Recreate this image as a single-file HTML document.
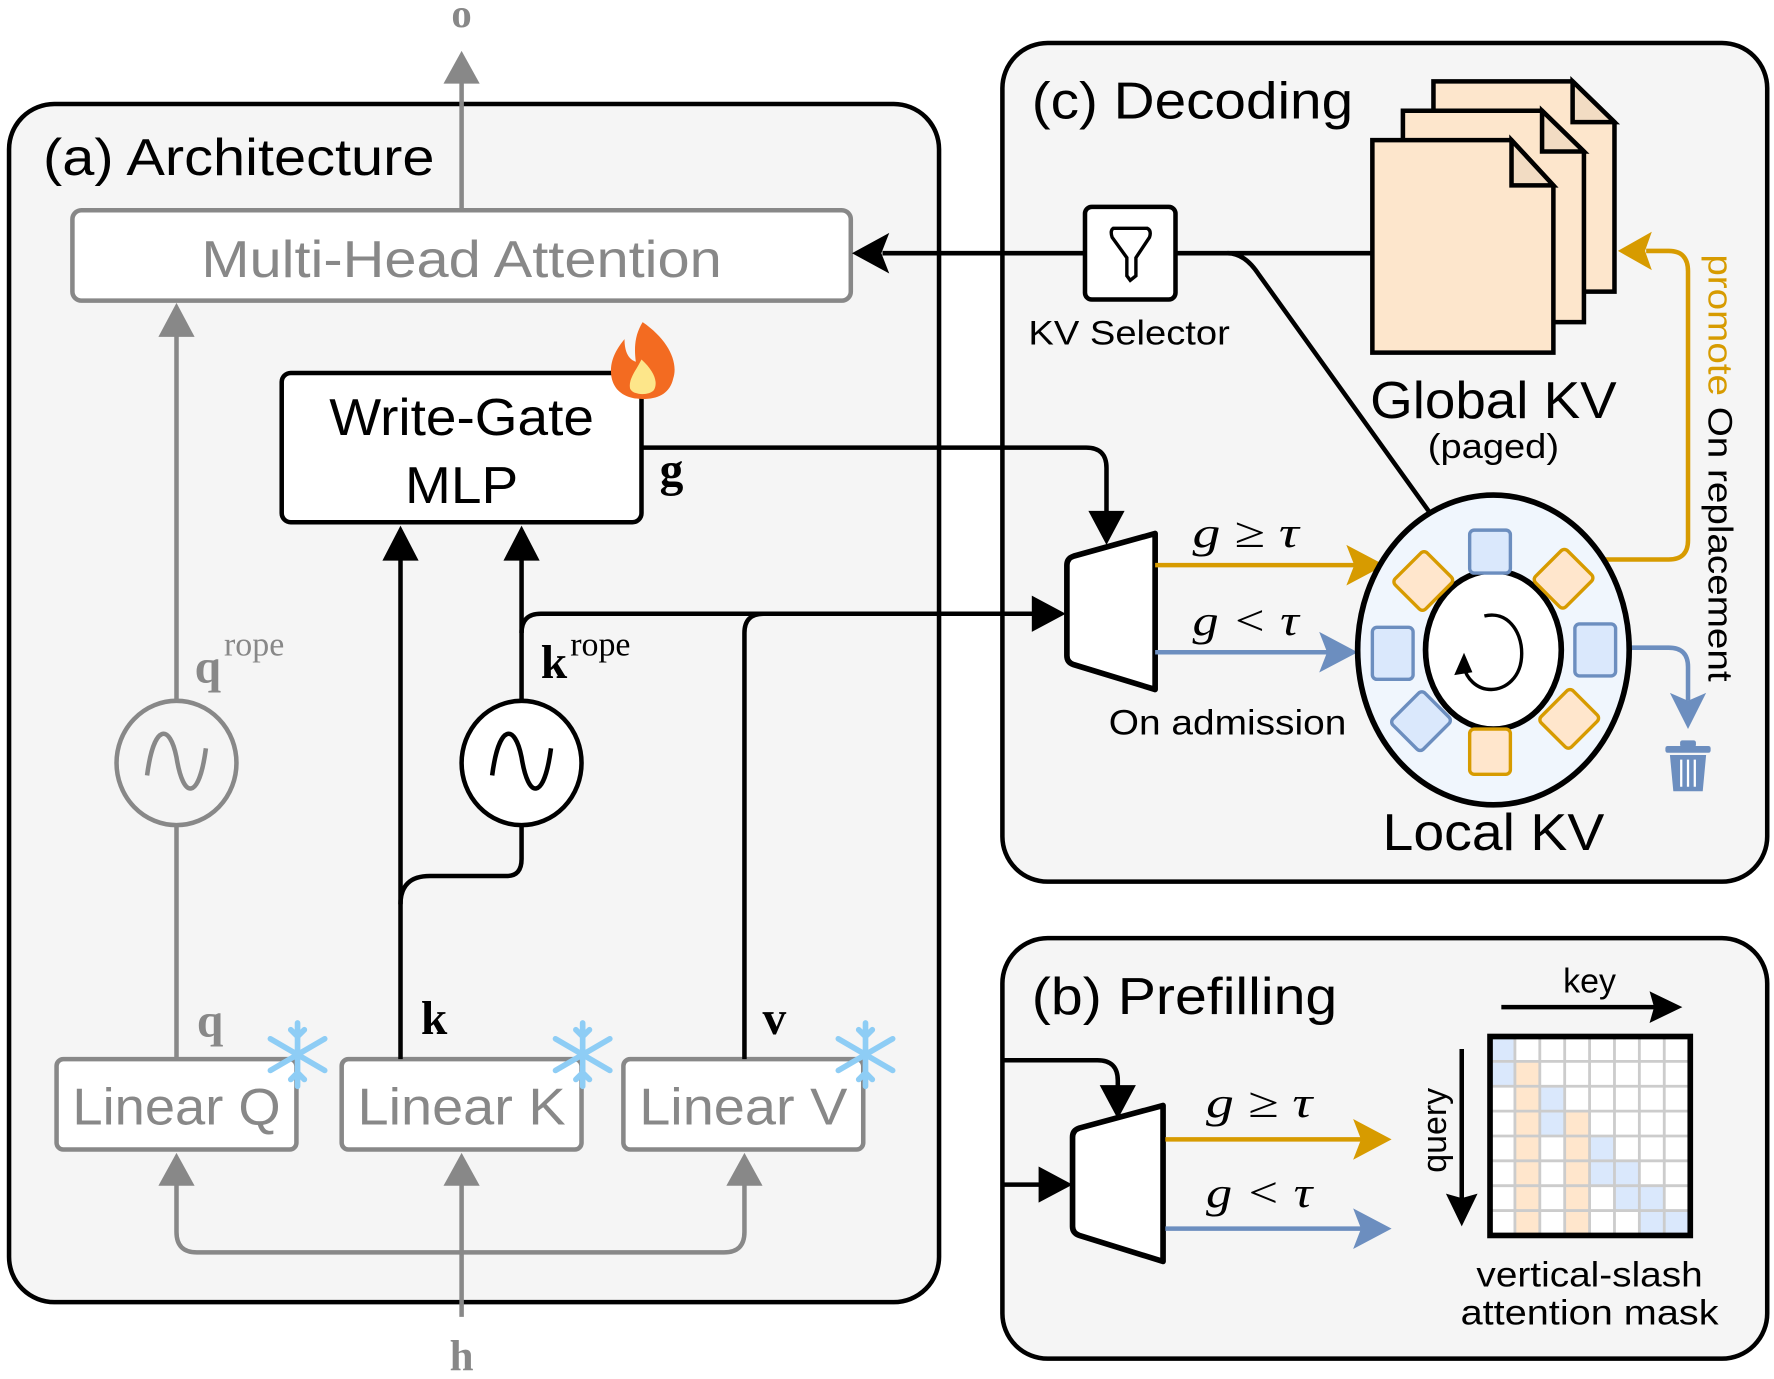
<!DOCTYPE html>
<html><head><meta charset="utf-8"><style>
html,body{margin:0;padding:0;background:#fff;}
svg{display:block;}
text{font-family:"Liberation Sans",sans-serif;}
.s{font-family:"Liberation Serif",serif;}
</style></head><body>
<svg width="1774" height="1379" viewBox="0 0 1568 1220" preserveAspectRatio="none" xmlns="http://www.w3.org/2000/svg">
<!-- panels -->
<rect x="8" y="92" width="822" height="1060" rx="40" fill="#f5f5f5" stroke="#000" stroke-width="4"/>
<rect x="886" y="38" width="676" height="742" rx="40" fill="#f5f5f5" stroke="#000" stroke-width="4"/>
<rect x="886" y="830" width="676" height="372" rx="40" fill="#f5f5f5" stroke="#000" stroke-width="4"/>

<text x="38" y="155" font-size="46" textLength="346" lengthAdjust="spacingAndGlyphs">(a) Architecture</text>
<text x="912" y="105" font-size="46" textLength="284" lengthAdjust="spacingAndGlyphs">(c) Decoding</text>
<text x="912" y="897" font-size="46" textLength="270" lengthAdjust="spacingAndGlyphs">(b) Prefilling</text>

<!-- output o -->
<line x1="408" y1="186" x2="408" y2="70" stroke="#888" stroke-width="4"/>
<path d="M408,45 L392,74 L424,74 Z" fill="#888"/>
<text x="408" y="24" class="s" font-size="36" font-weight="bold" fill="#888" text-anchor="middle">o</text>

<!-- MHA -->
<rect x="64" y="186" width="688" height="80" rx="8" fill="#fff" stroke="#888" stroke-width="4"/>
<text x="408" y="245" font-size="46" fill="#888" text-anchor="middle" textLength="460" lengthAdjust="spacingAndGlyphs">Multi-Head Attention</text>

<!-- Write gate -->
<rect x="249" y="330" width="318" height="132" rx="8" fill="#fff" stroke="#000" stroke-width="4"/>
<text x="408" y="385" font-size="46" text-anchor="middle" textLength="234" lengthAdjust="spacingAndGlyphs">Write-Gate</text>
<text x="408" y="445" font-size="46" text-anchor="middle" textLength="100" lengthAdjust="spacingAndGlyphs">MLP</text>
<!-- flame -->
<path d="M568,285 C590,300 600,320 595,335 C592,348 582,353 568,353 C552,353 540,345 540,328 C540,315 548,305 552,300 C552,312 556,318 562,320 C560,305 562,295 568,285 Z" fill="#f36b21"/>
<path d="M567,318 C578,328 582,338 578,345 C574,350 560,350 557,344 C555,336 562,328 567,318 Z" fill="#fde68a"/>

<!-- linear boxes -->
<rect x="50" y="937" width="212" height="80" rx="6" fill="#fff" stroke="#888" stroke-width="4"/>
<text x="156" y="995" font-size="46" fill="#888" text-anchor="middle" textLength="184" lengthAdjust="spacingAndGlyphs">Linear Q</text>
<rect x="302" y="937" width="212" height="80" rx="6" fill="#fff" stroke="#888" stroke-width="4"/>
<text x="408" y="995" font-size="46" fill="#888" text-anchor="middle" textLength="184" lengthAdjust="spacingAndGlyphs">Linear K</text>
<rect x="551" y="937" width="212" height="80" rx="6" fill="#fff" stroke="#888" stroke-width="4"/>
<text x="657" y="995" font-size="46" fill="#888" text-anchor="middle" textLength="184" lengthAdjust="spacingAndGlyphs">Linear V</text>
<!-- snowflakes -->
<g stroke="#8ecdf5" stroke-width="5" stroke-linecap="round" fill="none">
<g transform="translate(263,933)"><path d="M0,-28 V28 M-24,-14 L24,14 M-24,14 L24,-14 M-6,-22 L0,-16 L6,-22 M-6,22 L0,16 L6,22"/></g>
<g transform="translate(515,933)"><path d="M0,-28 V28 M-24,-14 L24,14 M-24,14 L24,-14 M-6,-22 L0,-16 L6,-22 M-6,22 L0,16 L6,22"/></g>
<g transform="translate(765,933)"><path d="M0,-28 V28 M-24,-14 L24,14 M-24,14 L24,-14 M-6,-22 L0,-16 L6,-22 M-6,22 L0,16 L6,22"/></g>
</g>

<!-- h input -->
<text x="408" y="1212" class="s" font-size="38" font-weight="bold" fill="#888" text-anchor="middle">h</text>
<line x1="408" y1="1165" x2="408" y2="1045" stroke="#888" stroke-width="4"/>
<path d="M408,1020 L392,1049 L424,1049 Z" fill="#888"/>
<path d="M156,1045 L156,1090 Q156,1108 174,1108 L640,1108 Q658,1108 658,1090 L658,1045" fill="none" stroke="#888" stroke-width="4"/>
<path d="M156,1020 L140,1049 L172,1049 Z" fill="#888"/>
<path d="M658,1020 L642,1049 L674,1049 Z" fill="#888"/>

<!-- q path -->
<line x1="156" y1="937" x2="156" y2="730" stroke="#888" stroke-width="4"/>
<line x1="156" y1="620" x2="156" y2="295" stroke="#888" stroke-width="4"/>
<path d="M156,268 L140,298 L172,298 Z" fill="#888"/>
<ellipse cx="156" cy="675" rx="53" ry="55" fill="none" stroke="#888" stroke-width="4"/>
<path d="M130,686 C136,640 150,640 156,670 C162,708 176,708 182,662" fill="none" stroke="#888" stroke-width="4"/>
<text x="172" y="604" class="s" font-size="42" font-weight="bold" fill="#888">q</text>
<text x="198" y="580" class="s" font-size="30" fill="#888">rope</text>
<text x="174" y="917" class="s" font-size="42" font-weight="bold" fill="#888">q</text>

<!-- k path -->
<path d="M354,937 L354,490" fill="none" stroke="#000" stroke-width="4"/>
<path d="M354,465 L338,496 L370,496 Z" fill="#000"/>
<path d="M354,800 Q354,775 380,775 L448,775 Q461,775 461,760 L461,730" fill="none" stroke="#000" stroke-width="4"/>
<ellipse cx="461" cy="675" rx="53" ry="55" fill="#fff" stroke="#000" stroke-width="4"/>
<path d="M435,686 C441,640 455,640 461,670 C467,708 481,708 487,662" fill="none" stroke="#000" stroke-width="4"/>
<path d="M461,620 L461,490" fill="none" stroke="#000" stroke-width="4"/>
<path d="M461,465 L445,496 L477,496 Z" fill="#000"/>
<path d="M461,560 Q461,543 478,543 L915,543" fill="none" stroke="#000" stroke-width="4"/>
<path d="M942,543 L912,527 L912,559 Z" fill="#000"/>
<path d="M658,937 L658,560 Q658,543 675,543" fill="none" stroke="#000" stroke-width="4"/>
<text x="478" y="600" class="s" font-size="42" font-weight="bold">k</text>
<text x="504" y="580" class="s" font-size="30">rope</text>
<text x="372" y="915" class="s" font-size="42" font-weight="bold">k</text>
<text x="674" y="915" class="s" font-size="42" font-weight="bold">v</text>

<!-- g -->
<path d="M567,396 L960,396 Q978,396 978,414 L978,455" fill="none" stroke="#000" stroke-width="4"/>
<path d="M978,482 L962,452 L994,452 Z" fill="#000"/>
<text x="583" y="430" class="s" font-size="42" font-weight="bold">g</text>

<!-- decoding trapezoid -->
<path d="M943,500 Q943,494 949,492 L1021,472 L1021,610 L949,588 Q943,586 943,580 Z" fill="#fff" stroke="#000" stroke-width="5" stroke-linejoin="round"/>
<line x1="1021" y1="500" x2="1200" y2="500" stroke="#d79b00" stroke-width="4"/>
<path d="M1224,500 L1190,482 L1197,500 L1190,518 Z" fill="#d79b00"/>
<line x1="1021" y1="577" x2="1176" y2="577" stroke="#6c8ebf" stroke-width="4"/>
<path d="M1200,577 L1166,559 L1173,577 L1166,595 Z" fill="#6c8ebf"/>
<text x="1054" y="484" class="s" font-size="38" font-style="italic" textLength="94" lengthAdjust="spacingAndGlyphs">g ≥ τ</text>
<text x="1054" y="562" class="s" font-size="38" font-style="italic" textLength="94" lengthAdjust="spacingAndGlyphs">g &lt; τ</text>
<text x="1085" y="650" font-size="31" text-anchor="middle" textLength="210" lengthAdjust="spacingAndGlyphs">On admission</text>

<!-- selector line -->
<line x1="1039" y1="224" x2="1215" y2="224" stroke="#000" stroke-width="4"/>
<line x1="958" y1="224" x2="780" y2="224" stroke="#000" stroke-width="4"/>
<path d="M753,224 L786,206 L779,224 L786,242 Z" fill="#000"/>
<path d="M1085,224 Q1100,224 1112,242 L1272,465" fill="none" stroke="#000" stroke-width="4"/>
<rect x="959" y="183" width="80" height="82" rx="6" fill="#fff" stroke="#000" stroke-width="4"/>
<path d="M984,202 L1014,202 Q1018,204 1016,210 L1004,228 L1004,244 L999,248 L996,244 L996,228 L983,210 Q981,204 984,202 Z" fill="none" stroke="#000" stroke-width="3"/>
<text x="998" y="305" font-size="30" text-anchor="middle" textLength="178" lengthAdjust="spacingAndGlyphs">KV Selector</text>

<!-- pages -->
<g stroke="#000" stroke-width="4" stroke-linejoin="miter">
<path d="M1267,72 L1390,72 L1427,108 L1427,258 L1267,258 Z" fill="#fde6cc"/>
<path d="M1390,72 L1390,108 L1427,108 Z" fill="#f2dcc3"/>
<path d="M1240,98 L1363,98 L1400,134 L1400,285 L1240,285 Z" fill="#fde6cc"/>
<path d="M1363,98 L1363,134 L1400,134 Z" fill="#f2dcc3"/>
<path d="M1213,124 L1336,124 L1373,164 L1373,312 L1213,312 Z" fill="#fde6cc"/>
<path d="M1336,124 L1336,164 L1373,164 Z" fill="#f2dcc3"/>
</g>
<text x="1320" y="370" font-size="46" text-anchor="middle" textLength="218" lengthAdjust="spacingAndGlyphs">Global KV</text>
<text x="1320" y="405" font-size="30" text-anchor="middle" textLength="116" lengthAdjust="spacingAndGlyphs">(paged)</text>

<!-- promote -->
<path d="M1412,495 L1475,495 Q1492,495 1492,478 L1492,240 Q1492,222 1475,222 L1455,222" fill="none" stroke="#d79b00" stroke-width="4"/>
<path d="M1430,222 L1460,205 L1454,222 L1460,239 Z" fill="#d79b00"/>
<text transform="translate(1510,225) rotate(90)" font-size="30" textLength="378" lengthAdjust="spacingAndGlyphs"><tspan fill="#d79b00">promote</tspan> On replacement</text>
<!-- evict -->
<path d="M1442,573 L1475,573 Q1492,573 1492,590 L1492,620" fill="none" stroke="#6c8ebf" stroke-width="4"/>
<path d="M1492,645 L1476,613 L1492,620 L1508,613 Z" fill="#6c8ebf"/>
<g fill="#6c8ebf">
<rect x="1472" y="660" width="40" height="6" rx="2"/>
<rect x="1485" y="655" width="14" height="6" rx="2"/>
<path d="M1476,668 L1508,668 L1505,700 L1479,700 Z"/>
</g>
<path d="M1486,672 V696 M1492,672 V696 M1498,672 V696" stroke="#fff" stroke-width="2"/>

<!-- local kv -->
<ellipse cx="1320" cy="575" rx="120" ry="137" fill="#f0f6fd" stroke="#000" stroke-width="5"/>
<ellipse cx="1320" cy="575" rx="60" ry="70" fill="#fff" stroke="#000" stroke-width="5"/>
<path d="M1312,545 C1332,540 1345,558 1345,578 C1345,600 1330,610 1318,610 C1305,610 1296,600 1294,590" fill="none" stroke="#000" stroke-width="3"/>
<path d="M1294,580 L1287,596 L1300,594 Z" fill="#000" stroke="#000" stroke-width="2"/>
<g stroke-width="3">
<rect x="1299" y="469" width="36" height="38" rx="4" fill="#dae8fc" stroke="#6c8ebf"/>
<rect x="1299" y="645" width="36" height="40" rx="4" fill="#ffe6cc" stroke="#d79b00"/>
<rect x="1213" y="555" width="36" height="46" rx="4" fill="#dae8fc" stroke="#6c8ebf"/>
<rect x="1392" y="552" width="36" height="46" rx="4" fill="#dae8fc" stroke="#6c8ebf"/>
<rect x="-19" y="-20" width="38" height="40" rx="4" fill="#ffe6cc" stroke="#d79b00" transform="translate(1258,514) rotate(45)"/>
<rect x="-19" y="-20" width="38" height="40" rx="4" fill="#ffe6cc" stroke="#d79b00" transform="translate(1382,512) rotate(45)"/>
<rect x="-19" y="-20" width="38" height="40" rx="4" fill="#dae8fc" stroke="#6c8ebf" transform="translate(1256,638) rotate(45)"/>
<rect x="-19" y="-20" width="38" height="40" rx="4" fill="#ffe6cc" stroke="#d79b00" transform="translate(1387,636) rotate(45)"/>
</g>
<text x="1320" y="752" font-size="46" text-anchor="middle" textLength="196" lengthAdjust="spacingAndGlyphs">Local KV</text>

<!-- prefilling -->
<path d="M886,938 L970,938 Q988,938 988,956 L988,965" fill="none" stroke="#000" stroke-width="4"/>
<path d="M988,990 L972,960 L1004,960 Z" fill="#000"/>
<line x1="886" y1="1048" x2="922" y2="1048" stroke="#000" stroke-width="4"/>
<path d="M948,1048 L918,1032 L918,1064 Z" fill="#000"/>
<path d="M948,1006 Q948,1000 954,998 L1028,978 L1028,1116 L954,1093 Q948,1091 948,1085 Z" fill="#fff" stroke="#000" stroke-width="5" stroke-linejoin="round"/>
<line x1="1030" y1="1008" x2="1205" y2="1008" stroke="#d79b00" stroke-width="4"/>
<path d="M1230,1008 L1196,990 L1203,1008 L1196,1026 Z" fill="#d79b00"/>
<line x1="1030" y1="1087" x2="1205" y2="1087" stroke="#6c8ebf" stroke-width="4"/>
<path d="M1230,1087 L1196,1069 L1203,1087 L1196,1105 Z" fill="#6c8ebf"/>
<text x="1066" y="988" class="s" font-size="38" font-style="italic" textLength="94" lengthAdjust="spacingAndGlyphs">g ≥ τ</text>
<text x="1066" y="1068" class="s" font-size="38" font-style="italic" textLength="94" lengthAdjust="spacingAndGlyphs">g &lt; τ</text>

<line x1="1327" y1="891" x2="1465" y2="891" stroke="#000" stroke-width="4"/>
<path d="M1487,891 L1458,877 L1462,891 L1458,905 Z" fill="#000"/>
<text x="1405" y="878" font-size="30" text-anchor="middle">key</text>
<line x1="1292" y1="928" x2="1292" y2="1062" stroke="#000" stroke-width="4"/>
<path d="M1292,1085 L1278,1056 L1292,1060 L1306,1056 Z" fill="#000"/>
<text transform="translate(1278,1000) rotate(-90)" font-size="30" text-anchor="middle">query</text>

<g>
<rect x="1317" y="917" width="177" height="176" fill="#fff"/>
<g fill="#dae8fc">
<rect x="1317" y="917" width="22" height="44"/>
<rect x="1361" y="961" width="22" height="44"/>
<rect x="1405" y="1005" width="22" height="44"/>
<rect x="1427" y="1027" width="22" height="44"/>
<rect x="1449" y="1049" width="22" height="44"/>
<rect x="1471" y="1071" width="23" height="22"/>
</g>
<g fill="#ffe6cc">
<rect x="1339" y="939" width="22" height="154"/>
<rect x="1383" y="983" width="22" height="110"/>
</g>
<g stroke="#ccc" stroke-width="2.5">
<path d="M1339,917V1093M1361,917V1093M1383,917V1093M1405,917V1093M1427,917V1093M1449,917V1093M1471,917V1093"/>
<path d="M1317,939H1494M1317,961H1494M1317,983H1494M1317,1005H1494M1317,1027H1494M1317,1049H1494M1317,1071H1494"/>
</g>
<rect x="1317" y="917" width="177" height="176" fill="none" stroke="#000" stroke-width="5"/>
</g>
<text x="1405" y="1138" font-size="31" text-anchor="middle" textLength="200" lengthAdjust="spacingAndGlyphs">vertical-slash</text>
<text x="1405" y="1172" font-size="31" text-anchor="middle" textLength="228" lengthAdjust="spacingAndGlyphs">attention mask</text>
</svg>
</body></html>
